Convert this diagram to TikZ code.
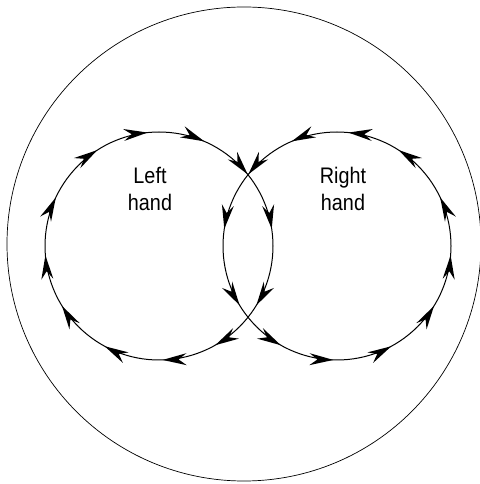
\documentclass[tikz,border=0pt]{standalone}
\usepackage{fontspec}
\setmainfont{Liberation Sans}[FakeStretch=0.88]
\usetikzlibrary{decorations.markings}

\begin{document}
\begin{tikzpicture}[x=1pt, y=1pt,
  handarrow/.style={decoration={mark=at position #1 with
    {\fill (0pt,0pt) -- (-24pt,6pt) -- (-16pt,0pt) -- (-24pt,-6pt) -- cycle;}}},
  handloop/.style={line width=1pt, decoration=markings,
    handarrow/.list={0.0167,0.101,0.212,0.293,0.370,0.454,
      0.537,0.612,0.695,0.784,0.859,0.940},
    postaction=decorate},
  handlabel/.style={align=center, font=\fontsize{22.5}{27}\selectfont}
]
\useasboundingbox (0,0) rectangle (479,484);

\coordinate (middle) at (244,240);
\coordinate (lc) at (159,238);
\coordinate (rc) at (337,238);

\draw[line width=0.7pt] (middle) circle[radius=237];

% left hand turns clockwise, right hand the other way
\draw[handloop] (lc) ++(45:114) arc[start angle=45, end angle=-315, radius=114];
\draw[handloop] (rc) ++(135:114) arc[start angle=135, end angle=495, radius=114];

\node[handlabel] (lefttext) at (150,295) {Left\\hand};
\node[handlabel] (righttext) at (343,295) {Right\\hand};

\end{tikzpicture}
\end{document}
